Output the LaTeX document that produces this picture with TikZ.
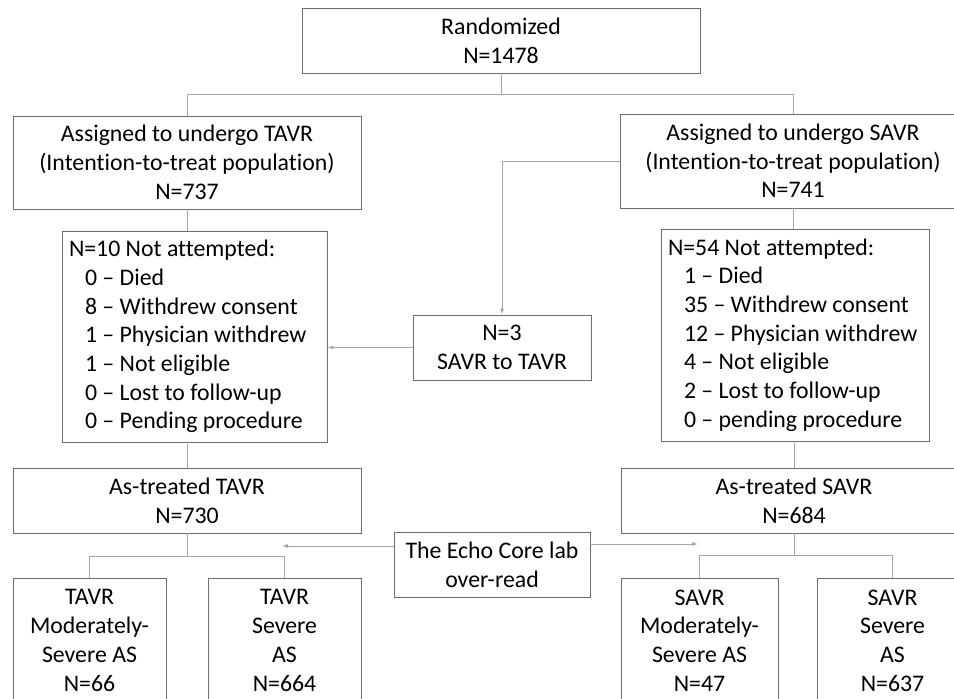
\documentclass[tikz,border=0pt]{standalone}
\usepackage{fontspec}
\setmainfont{Carlito}[Ligatures={TeX,NoCommon}]
\usetikzlibrary{arrows.meta}
\definecolor{boxgray}{HTML}{6E6E6E}
\definecolor{linegray}{HTML}{A6A6A6}

\begin{document}
\begin{tikzpicture}[x=1pt,y=-1pt,
  font=\fontsize{23.8}{28.7}\selectfont,
  box/.style={draw=boxgray,line width=0.9pt,align=center,inner sep=2pt},
  listbox/.style={draw=boxgray,line width=0.9pt,align=flush left,inner xsep=7pt,inner ysep=2pt},
  link/.style={draw=linegray,line width=0.9pt},
  arr/.style={link,-{Latex[length=6pt,width=4pt]}}]
\useasboundingbox (0,0) rectangle (954,699);
\fill[white] (0,0) rectangle (954,699);
\clip (0,0) rectangle (954,699);

\node[box,minimum width=398pt,minimum height=65pt] (rand) at (501,40.5) {Randomized\\N=1478};
\node[box,minimum width=348pt,minimum height=93pt] (tavr) at (187,162.5)
  {Assigned to undergo TAVR\\(Intention-to-treat population)\\N=737};
\node[box,minimum width=346pt,minimum height=94pt] (savr) at (793,161)
  {Assigned to undergo SAVR\\(Intention-to-treat population)\\N=741};

\node[listbox,text width=251pt,minimum height=211pt] (tna) at (194.5,336.5)
  {N=10 Not attempted:\\
   \hspace*{16pt}0 – Died\\
   \hspace*{16pt}8 – Withdrew consent\\
   \hspace*{16pt}1 – Physician withdrew\\
   \hspace*{16pt}1 – Not eligible\\
   \hspace*{16pt}0 – Lost to follow-up\\
   \hspace*{16pt}0 – Pending procedure};
\node[listbox,text width=254pt,minimum height=212pt] (sna) at (795,335)
  {N=54 Not attempted:\\
   \hspace*{16pt}1 – Died\\
   \hspace*{16pt}35 – Withdrew consent\\
   \hspace*{16pt}12 – Physician withdrew\\
   \hspace*{16pt}4 – Not eligible\\
   \hspace*{16pt}2 – Lost to follow-up\\
   \hspace*{16pt}0 – pending procedure};
\node[box,minimum width=178pt,minimum height=65pt] (swap) at (502,347.5) {N=3\\SAVR to TAVR};

\node[box,minimum width=348pt,minimum height=65pt] (tat) at (187,500.5) {As-treated TAVR\\N=730};
\node[box,minimum width=346pt,minimum height=65pt] (sat) at (794,500.5) {As-treated SAVR\\N=684};
\node[box,minimum width=196pt,minimum height=65pt] (echo) at (492,564.5) {The Echo Core lab\\over-read};

\node[box,minimum width=153pt,minimum height=124pt,anchor=north] (tmod) at (89.5,578)
  {TAVR\\Moderately-\\Severe AS\\N=66};
\node[box,minimum width=153pt,minimum height=124pt,anchor=north] (tsev) at (284.5,578)
  {TAVR\\Severe\\AS\\N=664};
\node[box,minimum width=157pt,minimum height=124pt,anchor=north] (smod) at (699.5,578)
  {SAVR\\Moderately-\\Severe AS\\N=47};
\node[box,minimum width=151pt,minimum height=124pt,anchor=north] (ssev) at (892.5,578)
  {SAVR\\Severe\\AS\\N=637};

\coordinate (rsplit) at (501,94);
\coordinate (tsplit) at (187,556);
\coordinate (ssplit) at (794,555);
\coordinate (techo) at (282,546);
\coordinate (secho) at (698,544);

\draw[link] (rand.south) -- (rsplit) -| (tavr.north);
\draw[link] (rsplit) -| (savr.north);
\draw[link] (tavr.south) -- (tavr.south |- tna.north);
\draw[link] (savr.south) -- (savr.south |- sna.north);
\draw[link] (tna.south -| tat.north) -- (tat.north);
\draw[link] (sna.south -| sat.north) -- (sat.north);
\draw[arr] (savr.west) -| (swap.north);
\draw[arr] (swap.west) -- (swap.west -| tna.east);
\draw[link] (tat.south) -- (tsplit) -| (tmod.north);
\draw[link] (tsplit) -| (tsev.north);
\draw[link] (sat.south) -- (ssplit) -| (smod.north);
\draw[link] (ssplit) -| (ssev.north);
\draw[arr] (echo.west |- techo) -- (techo);
\draw[arr] (echo.east |- secho) -- (secho);
\end{tikzpicture}
\end{document}
